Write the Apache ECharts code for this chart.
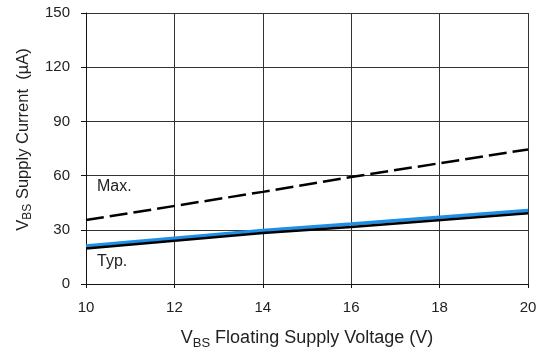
<!DOCTYPE html>
<html>
<head>
<meta charset="utf-8">
<script src="https://cdn.jsdelivr.net/npm/echarts@6/dist/echarts.min.js"></script>
<style>
  html, body { margin: 0; padding: 0; background: #fff; }
  #chart { width: 543px; height: 354px; }
</style>
</head>
<body>
<div id="chart"></div>
<script>
// values
const voltage = [10, 14, 16, 20];
const maxCurrent = [35.4, 51, 59.2, 74.5];
const typBlue = [21.0, 29.6, 33.2, 40.7];
const typBlack = [19.7, 28.2, 31.5, 39.2];

const xTicks = [10, 12, 14, 16, 18, 20];
const yTicks = [0, 30, 60, 90, 120, 150];

const font = 'Liberation Sans, Arial, sans-serif';

function pairs(xs, ys) {
  return xs.map((x, i) => [x, ys[i]]);
}

const chart = echarts.init(document.getElementById('chart'));

const option = {
  backgroundColor: '#fff',
  animation: false,
  grid: { left: 86, right: 15, top: 13, bottom: 70, outerBoundsMode: 'none' },
  xAxis: {
    type: 'value',
    min: xTicks[0],
    max: xTicks[xTicks.length - 1],
    interval: 2,
    name: '{n|V}{s|BS}{n| Floating Supply Voltage (V)}',
    nameLocation: 'middle',
    nameGap: 42,
    nameTextStyle: {
      rich: {
        n: { fontFamily: font, fontSize: 18, color: '#222' },
        s: { fontFamily: font, fontSize: 13, color: '#222', verticalAlign: 'top', padding: [11, 0, 0, 0] }
      }
    },
    axisLine: { show: true, lineStyle: { color: '#111', width: 1 } },
    axisTick: { show: true, length: 4, lineStyle: { color: '#111' } },
    axisLabel: { fontFamily: font, fontSize: 15, color: '#222', margin: 16 },
    splitLine: { show: true, lineStyle: { color: '#333', width: 1 } }
  },
  yAxis: {
    type: 'value',
    min: yTicks[0],
    max: yTicks[yTicks.length - 1],
    interval: 30,
    name: '{n|V}{s|BS}{n| Supply Current  (µA)}',
    nameLocation: 'middle',
    nameRotate: 90,
    nameGap: 51,
    nameTextStyle: {
      padding: [0, 0, 0, 18],
      rich: {
        n: { fontFamily: font, fontSize: 16.5, color: '#222' },
        s: { fontFamily: font, fontSize: 12, color: '#222', verticalAlign: 'top', padding: [10, 0, 0, 0] }
      }
    },
    axisLine: { show: true, lineStyle: { color: '#111', width: 1 } },
    axisTick: { show: true, length: 5, lineStyle: { color: '#111' } },
    axisLabel: { fontFamily: font, fontSize: 15, color: '#222', margin: 16 },
    splitLine: { show: true, lineStyle: { color: '#333', width: 1 } }
  },
  series: [
    {
      name: 'Max.',
      type: 'line',
      data: pairs(voltage, maxCurrent),
      symbol: 'none',
      lineStyle: { color: '#000', width: 2.5, type: [18, 6] },
      z: 3
    },
    {
      name: 'Typ. blue',
      type: 'line',
      data: pairs(voltage, typBlue),
      symbol: 'none',
      lineStyle: { color: '#1e8fe6', width: 3.5 },
      z: 2
    },
    {
      name: 'Typ.',
      type: 'line',
      data: pairs(voltage, typBlack),
      symbol: 'none',
      lineStyle: { color: '#000', width: 2.5 },
      z: 3
    }
  ],
  graphic: [
    {
      type: 'text', left: 97, top: 179,
      style: { text: 'Max.', fontFamily: font, fontSize: 16, fill: '#222' }
    },
    {
      type: 'text', left: 97, top: 254,
      style: { text: 'Typ.', fontFamily: font, fontSize: 16, fill: '#222' }
    }
  ]
};

chart.setOption(option);
</script>
</body>
</html>
